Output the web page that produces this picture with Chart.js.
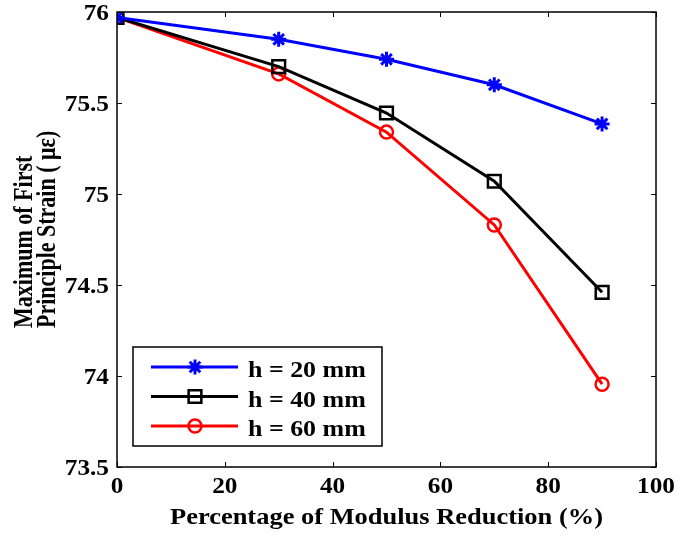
<!DOCTYPE html>
<html>
<head>
<meta charset="utf-8">
<script src="https://cdn.jsdelivr.net/npm/chart.js@4.4.0/dist/chart.umd.min.js"></script>
<style>
  html, body { margin: 0; padding: 0; background: #fff; }
  #wrap { width: 678px; height: 537px; }
</style>
</head>
<body>
<div id="wrap"><canvas id="strainChart" width="678" height="537"></canvas></div>
<script>
// values
const reduction = [0, 30, 50, 70, 90];
const h20 = [75.97, 75.85, 75.74, 75.60, 75.385];
const h40 = [75.97, 75.70, 75.445, 75.07, 74.46];
const h60 = [75.97, 75.66, 75.34, 74.83, 73.955];
const seriesNames = ["h = 20 mm", "h = 40 mm", "h = 60 mm"];
const xTicks = [0, 20, 40, 60, 80, 100];
const yTicks = [73.5, 74, 74.5, 75, 75.5, 76];
const xTitle = "Percentage of Modulus Reduction (%)";
const yTitle = ["Maximum of First", "Principle Strain ( \u03bc\u03b5)"];

const serif = "'Liberation Serif', 'Times New Roman', serif";

function toPoints(ys) {
  return reduction.map((x, i) => ({ x: x, y: ys[i] }));
}

// the exported figure has slightly wide lettering, so text is drawn stretched
function wideText(ctx, text, x, y, align, sx) {
  ctx.save();
  ctx.translate(x, y);
  ctx.scale(sx, 1);
  ctx.textAlign = align;
  ctx.fillText(text, 0, 0);
  ctx.restore();
}

const framePlugin = {
  id: "frame",
  afterDatasetsDraw(chart) {
    const ctx = chart.ctx;
    const a = chart.chartArea;
    const xs = chart.scales.x;
    const ys = chart.scales.y;
    ctx.save();
    ctx.strokeStyle = "#000";
    ctx.lineWidth = 1.5;
    ctx.strokeRect(a.left, a.top, a.right - a.left, a.bottom - a.top);
    ctx.lineWidth = 1;
    const t = 5;
    ctx.beginPath();
    xTicks.forEach(v => {
      const px = Math.round(xs.getPixelForValue(v)) + 0.5;
      ctx.moveTo(px, a.bottom); ctx.lineTo(px, a.bottom - t);
      ctx.moveTo(px, a.top); ctx.lineTo(px, a.top + t);
    });
    yTicks.forEach(v => {
      const py = Math.round(ys.getPixelForValue(v)) + 0.5;
      ctx.moveTo(a.left, py); ctx.lineTo(a.left + t, py);
      ctx.moveTo(a.right, py); ctx.lineTo(a.right - t, py);
    });
    ctx.stroke();
    ctx.restore();
  },
  afterDraw(chart) {
    const ctx = chart.ctx;
    const a = chart.chartArea;
    const xs = chart.scales.x;
    const ys = chart.scales.y;

    ctx.save();
    ctx.fillStyle = "#000";
    ctx.textBaseline = "alphabetic";

    // tick labels
    ctx.font = "bold 23px " + serif;
    xTicks.forEach(v => {
      wideText(ctx, String(v), xs.getPixelForValue(v), a.bottom + 26, "center", 1.1);
    });
    yTicks.forEach(v => {
      wideText(ctx, String(v), a.left - 8, ys.getPixelForValue(v) + 8, "right", 1.1);
    });

    // x axis title
    ctx.font = "bold 23px " + serif;
    wideText(ctx, xTitle, (a.left + a.right) / 2, 524, "center", 1.15);

    // y axis title, two lines starting from the same bottom point
    ctx.font = "bold 22px " + serif;
    ctx.textAlign = "left";
    ctx.save();
    ctx.translate(0, 328);
    ctx.rotate(-Math.PI / 2);
    ctx.scale(1, 1.25);
    ctx.fillText(yTitle[0], 0, 32 / 1.25);
    ctx.fillText(yTitle[1], 0, 55 / 1.25);
    ctx.restore();
    ctx.restore();

    // legend box inside lower-left corner
    const box = { x: 133, y: 347, w: 249, h: 99 };
    ctx.save();
    ctx.fillStyle = "#fff";
    ctx.fillRect(box.x, box.y, box.w, box.h);
    ctx.strokeStyle = "#000";
    ctx.lineWidth = 1.5;
    ctx.strokeRect(box.x, box.y, box.w, box.h);
    chart.data.datasets.forEach((ds, i) => {
      const cy = box.y + 20 + i * 29.5;
      ctx.strokeStyle = ds.borderColor;
      ctx.lineWidth = 3;
      ctx.beginPath();
      ctx.moveTo(151, cy); ctx.lineTo(238, cy);
      ctx.stroke();
      ctx.fillStyle = "rgba(255,255,255,0)";
      ctx.strokeStyle = ds.pointBorderColor;
      ctx.lineWidth = ds.pointBorderWidth;
      Chart.helpers.drawPoint(ctx, {
        pointStyle: ds.pointStyle,
        radius: ds.pointRadius,
        borderWidth: ds.pointBorderWidth
      }, 195, cy);
      ctx.fillStyle = "#000";
      ctx.font = "bold 24px " + serif;
      ctx.textBaseline = "alphabetic";
      wideText(ctx, ds.label, 248, cy + 10, "left", 1.08);
    });
    ctx.restore();
  }
};

const ctx = document.getElementById("strainChart");

new Chart(ctx, {
  type: "line",
  data: {
    datasets: [
      {
        label: seriesNames[0],
        data: toPoints(h20),
        borderColor: "#0000ff",
        backgroundColor: "#0000ff",
        borderWidth: 3,
        pointStyle: "star",
        pointRadius: 7.5,
        pointBorderWidth: 3,
        pointBorderColor: "#0000ff"
      },
      {
        label: seriesNames[1],
        data: toPoints(h40),
        borderColor: "#000000",
        backgroundColor: "#ffffff",
        borderWidth: 3,
        pointStyle: "rect",
        pointRadius: 9,
        pointBorderWidth: 2.5,
        pointBorderColor: "#000000",
        pointBackgroundColor: "rgba(255,255,255,0)"
      },
      {
        label: seriesNames[2],
        data: toPoints(h60),
        borderColor: "#ff0000",
        backgroundColor: "#ffffff",
        borderWidth: 3,
        pointStyle: "circle",
        pointRadius: 6.5,
        pointBorderWidth: 2.5,
        pointBorderColor: "#ff0000",
        pointBackgroundColor: "rgba(255,255,255,0)"
      }
    ]
  },
  options: {
    responsive: false,
    animation: false,
    layout: { padding: { top: 12, right: 22, left: 0, bottom: 0 } },
    plugins: { legend: { display: false }, tooltip: { enabled: false } },
    elements: { line: { tension: 0 } },
    scales: {
      x: {
        type: "linear",
        min: 0,
        max: 100,
        afterBuildTicks: (s) => { s.ticks = xTicks.map(v => ({ value: v })); },
        afterFit: (s) => { s.height = 70; s.paddingLeft = 0; s.paddingRight = 0; },
        grid: { display: false, drawTicks: false },
        border: { display: false },
        ticks: { display: false }
      },
      y: {
        type: "linear",
        min: 73.5,
        max: 76,
        afterBuildTicks: (s) => { s.ticks = yTicks.map(v => ({ value: v })); },
        afterFit: (s) => { s.width = 117; s.paddingTop = 0; s.paddingBottom = 0; },
        grid: { display: false, drawTicks: false },
        border: { display: false },
        ticks: { display: false }
      }
    }
  },
  plugins: [framePlugin]
});
</script>
</body>
</html>
